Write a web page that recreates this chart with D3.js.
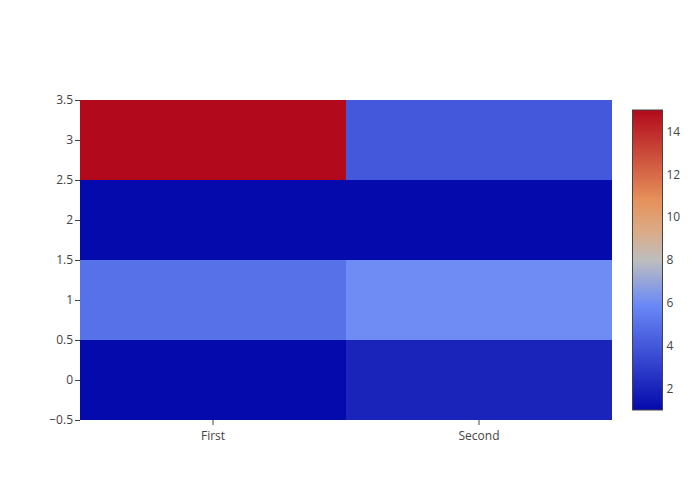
<!DOCTYPE html>
<html>
<head>
<meta charset="utf-8">
<script src="https://cdn.jsdelivr.net/npm/d3@7"></script>
<style>
  body { margin: 0; background: #fff; }
  svg text { font-family: "Open Sans", "Noto Sans", sans-serif; font-size: 12px; fill: #444; }
</style>
</head>
<body>
<div id="chart"></div>
<script>
(function () {
    "use strict";

    // chart values
    var categories = ['First', 'Second'];
    var rows = [0, 1, 2, 3];
    var zFirst = [1, 5, 1, 15];
    var zSecond = [2, 6, 1, 4];
    var yTicks = [-0.5, 0, 0.5, 1, 1.5, 2, 2.5, 3, 3.5];
    var barTicks = [2, 4, 6, 8, 10, 12, 14];
    var zRange = [1, 15];

    // plotly RdBu colorscale
    var scaleStops = [0, 0.35, 0.5, 0.6, 0.7, 1];
    var scaleColors = ['rgb(5,10,172)', 'rgb(106,137,247)', 'rgb(190,190,190)',
        'rgb(220,170,132)', 'rgb(230,145,90)', 'rgb(178,10,28)'];

    var config = {
        width: 700, height: 500,
        plot: { left: 80, right: 612, top: 100, bottom: 420 },
        bar: { x: 632.5, width: 30, top: 110, bottom: 410 }
    };

    var svg = d3.select('#chart').append('svg')
        .attr('width', config.width)
        .attr('height', config.height);

    var p = config.plot;
    var x = d3.scaleBand().domain(categories).range([p.left, p.right]);
    var y = d3.scaleLinear().domain([-0.5, 3.5]).range([p.bottom, p.top]);

    var color = d3.scaleLinear()
        .domain(scaleStops.map(function (t) { return zRange[0] + t * (zRange[1] - zRange[0]); }))
        .range(scaleColors)
        .interpolate(d3.interpolateRgb);

    var cells = [];
    rows.forEach(function (r, i) {
        cells.push({ cat: categories[0], row: r, z: zFirst[i] });
        cells.push({ cat: categories[1], row: r, z: zSecond[i] });
    });

    svg.append('g').selectAll('rect')
        .data(cells)
        .enter().append('rect')
        .attr('x', function (d) { return x(d.cat); })
        .attr('width', x.bandwidth())
        .attr('y', function (d) { return y(d.row + 0.5); })
        .attr('height', function (d) { return y(d.row - 0.5) - y(d.row + 0.5); })
        .attr('fill', function (d) { return color(d.z); })
        .attr('shape-rendering', 'crispEdges');

    var fmt = function (v) { return v < 0 ? '\u2212' + Math.abs(v) : String(v); };

    var yAxis = svg.append('g')
        .attr('transform', 'translate(' + p.left + ',0)')
        .call(d3.axisLeft(y).tickValues(yTicks).tickFormat(fmt).tickSize(5).tickPadding(2));
    yAxis.select('.domain').remove();
    yAxis.selectAll('line').attr('stroke', '#444');

    var xAxis = svg.append('g')
        .attr('transform', 'translate(0,' + p.bottom + ')')
        .call(d3.axisBottom(x).tickSize(5).tickPadding(6));
    xAxis.select('.domain').remove();
    xAxis.selectAll('line').attr('stroke', '#444');

    svg.selectAll('.tick text').attr('font-size', null).attr('font-family', null).attr('fill', '#444');

    // colorbar
    var b = config.bar;
    var grad = svg.append('defs').append('linearGradient')
        .attr('id', 'cbar').attr('x1', 0).attr('y1', 1).attr('x2', 0).attr('y2', 0);
    grad.selectAll('stop')
        .data(scaleStops)
        .enter().append('stop')
        .attr('offset', function (d) { return d; })
        .attr('stop-color', function (d, i) { return scaleColors[i]; });

    svg.append('rect')
        .attr('x', b.x).attr('y', b.top)
        .attr('width', b.width).attr('height', b.bottom - b.top)
        .attr('fill', 'url(#cbar)')
        .attr('stroke', '#444').attr('stroke-width', 1);

    var cy = d3.scaleLinear().domain(zRange).range([b.bottom, b.top]);
    var cAxis = svg.append('g')
        .attr('transform', 'translate(' + (b.x + b.width + 1) + ',0)')
        .call(d3.axisRight(cy).tickValues(barTicks).tickSize(0).tickPadding(3));
    cAxis.select('.domain').remove();
    cAxis.selectAll('text').attr('font-size', null).attr('font-family', null).attr('fill', '#444');
})();
</script>
</body>
</html>
